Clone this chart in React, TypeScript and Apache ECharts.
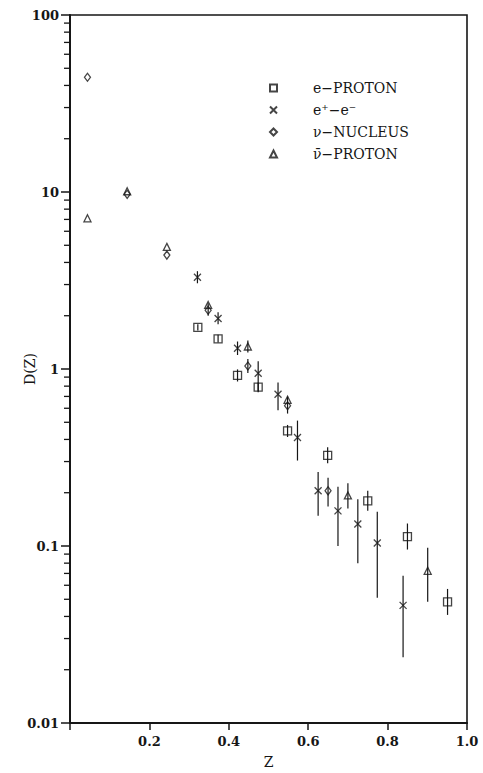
import React, { useEffect, useRef } from "react";
import * as echarts from "echarts";

// ---- data ----
const eProtonZ = [0.322, 0.373, 0.422, 0.474, 0.548, 0.649, 0.75, 0.85, 0.951];
const eProtonD = [1.72, 1.48, 0.92, 0.79, 0.447, 0.325, 0.18, 0.113, 0.0483];
const eProtonLo = [1.65, 1.41, 0.85, 0.74, 0.413, 0.293, 0.158, 0.0955, 0.0408];
const eProtonHi = [1.79, 1.56, 0.995, 0.84, 0.483, 0.361, 0.205, 0.134, 0.0572];

const eeZ = [0.321, 0.373, 0.422, 0.474, 0.524, 0.573, 0.625, 0.675, 0.725, 0.774, 0.839];
const eeD = [3.3, 1.93, 1.31, 0.946, 0.72, 0.41, 0.205, 0.158, 0.133, 0.104, 0.0462];
const eeLo = [3.05, 1.79, 1.2, 0.748, 0.585, 0.304, 0.148, 0.1, 0.08, 0.051, 0.0235];
const eeHi = [3.57, 2.09, 1.43, 1.106, 0.84, 0.511, 0.262, 0.216, 0.184, 0.156, 0.068];

const nuZ = [0.044, 0.144, 0.244, 0.348, 0.448, 0.548, 0.65];
const nuD = [44.5, 9.7, 4.4, 2.15, 1.04, 0.62, 0.205];
const nuLo: (number | null)[] = [null, null, null, 2.0, 0.95, 0.56, 0.167];
const nuHi: (number | null)[] = [null, null, null, 2.35, 1.14, 0.7, 0.243];

const nubarZ = [0.044, 0.144, 0.244, 0.348, 0.448, 0.548, 0.7, 0.901];
const nubarD = [7.1, 10.1, 4.9, 2.3, 1.34, 0.67, 0.193, 0.0724];
const nubarLo: (number | null)[] = [null, null, null, null, 1.24, null, 0.163, 0.0484];
const nubarHi: (number | null)[] = [null, null, null, null, 1.45, null, 0.226, 0.0977];

const seriesNames = ["e\u2212PROTON", "e\u207A\u2212e\u207B", "\u03BD\u2212NUCLEUS", "\u03BD\u0304\u2212PROTON"];
const xTicks = [0, 0.2, 0.4, 0.6, 0.8, 1.0];
const yDecades = [0.01, 0.1, 1, 10, 100];
const minorMultipliers = [2, 3, 4, 5, 6, 7, 8, 9];

const FONT = "'DejaVu Serif', 'Liberation Serif', serif";
const INK = "#161616";

const pts = (z: number[], d: number[]) => z.map((v, i) => [v, d[i]]);
const errs = (z: number[], lo: (number | null)[], hi: (number | null)[]) =>
  z
    .map((v, i) => (lo[i] != null && hi[i] != null ? [v, lo[i], hi[i]] : null))
    .filter((e) => e !== null);

const minorTicks: number[][] = [];
yDecades.slice(0, -1).forEach((d) =>
  minorMultipliers.forEach((m) => minorTicks.push([0, d * m]))
);

const errorRender = (params: any, api: any) => {
  const x = api.value(0);
  const p1 = api.coord([x, api.value(1)]);
  const p2 = api.coord([x, api.value(2)]);
  return {
    type: "line",
    shape: { x1: p1[0], y1: p1[1], x2: p2[0], y2: p2[1] },
    style: { stroke: INK, lineWidth: 1.2 },
  };
};

const minorRender = (params: any, api: any) => {
  const p = api.coord([api.value(0), api.value(1)]);
  return {
    type: "line",
    shape: { x1: p[0] - 6, y1: p[1], x2: p[0], y2: p[1] },
    style: { stroke: INK, lineWidth: 1.3 },
  };
};

const symbols = [
  "rect",
  "path://M0 0L10 10M10 0L0 10",
  "diamond",
  "triangle",
];
const sizes: any[] = [8, 7, [6, 8], 7];
const pointSets = [
  pts(eProtonZ, eProtonD),
  pts(eeZ, eeD),
  pts(nuZ, nuD),
  pts(nubarZ, nubarD),
];
const errorSets = [
  errs(eProtonZ, eProtonLo, eProtonHi),
  errs(eeZ, eeLo, eeHi),
  errs(nuZ, nuLo, nuHi),
  errs(nubarZ, nubarLo, nubarHi),
];

export default function App() {
  const ref = useRef<HTMLDivElement>(null);
  useEffect(() => {
    if (!ref.current) return;
    const chart = echarts.init(ref.current, null, { renderer: "svg" });
    const series: any[] = [];
    errorSets.forEach((e, i) => {
      series.push({
        type: "custom",
        name: "err" + i,
        renderItem: errorRender,
        data: e,
        encode: { x: 0, y: [1, 2] },
        silent: true,
        z: 2,
      });
    });
    pointSets.forEach((p, i) => {
      series.push({
        type: "scatter",
        name: seriesNames[i],
        data: p,
        symbol: symbols[i],
        symbolSize: sizes[i],
        itemStyle: { color: "rgba(255,255,255,0)", borderColor: INK, borderWidth: 1.3 },
        z: 3,
      });
    });
    series.push({
      type: "custom",
      name: "minor",
      renderItem: minorRender,
      data: minorTicks,
      encode: { x: 0, y: 1 },
      clip: false,
      silent: true,
      z: 5,
    });
    chart.setOption({
      animation: false,
      backgroundColor: "#ffffff",
      textStyle: { fontFamily: FONT },
      grid: {
        left: 70,
        right: 16,
        top: 15,
        bottom: 50,
        outerBoundsMode: "none",
        containLabel: false,
        show: true,
        borderColor: INK,
        borderWidth: 1.6,
        backgroundColor: "transparent",
      },
      legend: {
        data: seriesNames,
        orient: "vertical",
        left: 264,
        top: 75,
        itemWidth: 7,
        itemHeight: 7,
        itemGap: 6,
        textStyle: {
          fontFamily: FONT,
          fontSize: 14,
          color: INK,
          lineHeight: 16,
          padding: [0, 0, 0, 31],
        },
        selectedMode: false,
      },
      xAxis: {
        type: "value",
        min: xTicks[0],
        max: xTicks[xTicks.length - 1],
        interval: 0.2,
        name: "Z",
        nameLocation: "middle",
        nameGap: 32,
        nameMoveOverlap: false,
        nameTextStyle: { fontFamily: FONT, fontSize: 14, color: INK },
        axisLine: { show: true, lineStyle: { color: INK, width: 2 } },
        axisTick: { show: true, length: 7, lineStyle: { color: INK, width: 1.5 } },
        axisLabel: {
          margin: 12,
          fontFamily: FONT,
          fontSize: 13,
          fontWeight: "bold",
          color: INK,
          formatter: (v: number) => (v === 0 ? "" : v.toFixed(1)),
        },
        splitLine: { show: false },
      },
      yAxis: {
        type: "log",
        logBase: 10,
        min: yDecades[0],
        max: yDecades[yDecades.length - 1],
        name: "D(Z)",
        nameLocation: "middle",
        nameGap: 33,
        nameMoveOverlap: false,
        nameTextStyle: { fontFamily: FONT, fontSize: 14, color: INK },
        axisLine: { show: true, lineStyle: { color: INK, width: 2 } },
        axisTick: { show: true, length: 9, lineStyle: { color: INK, width: 1.5 } },
        axisLabel: {
          margin: 11,
          fontFamily: FONT,
          fontSize: 13,
          fontWeight: "bold",
          color: INK,
          formatter: (v: number) => {
            const m = yDecades.find((d) => Math.abs(d - v) / d < 1e-6);
            return m !== undefined ? String(m) : "";
          },
        },
        splitLine: { show: false },
      },
      series,
    });
    return () => chart.dispose();
  }, []);
  return <div ref={ref} style={{ width: 483, height: 773, position: "absolute", left: 0, top: 0 }} />;
}
